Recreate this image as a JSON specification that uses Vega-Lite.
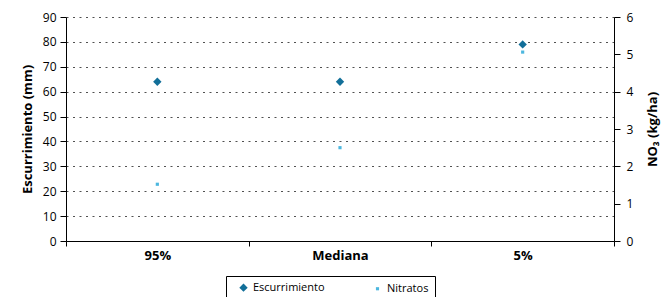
{
  "$schema": "https://vega.github.io/schema/vega-lite/v6.json",
  "autosize": {"type": "none"},
  "padding": {"left": 66, "top": 17, "right": 51, "bottom": 56},
  "width": 548,
  "height": 224,
  "background": "white",
  "config": {
    "font": "Open Sans",
    "view": {"stroke": null},
    "axis": {"labelFont": "Open Sans", "titleFont": "Open Sans", "labelColor": "#000", "titleColor": "#000", "domainColor": "#000", "tickColor": "#000"}
  },
  "data": {
    "values": [
      {"cat": "95%", "serie": "Escurrimiento", "mm": 64},
      {"cat": "Mediana", "serie": "Escurrimiento", "mm": 64},
      {"cat": "5%", "serie": "Escurrimiento", "mm": 79},
      {"cat": "95%", "serie": "Nitratos", "no3": 1.52},
      {"cat": "Mediana", "serie": "Nitratos", "no3": 2.5},
      {"cat": "5%", "serie": "Nitratos", "no3": 5.06}
    ]
  },
  "encoding": {
    "x": {
      "field": "cat", "type": "nominal", "sort": ["95%", "Mediana", "5%"],
      "scale": {"paddingInner": 0, "paddingOuter": 0},
      "axis": {"title": null, "labelAngle": 0, "labelFontWeight": "bold", "labelFontSize": 13, "labelPadding": 3, "tickBand": "extent", "tickSize": 5, "grid": false, "domainWidth": 1}
    },
    "color": {"field": "serie", "type": "nominal", "scale": {"domain": ["Escurrimiento", "Nitratos"], "range": ["#126f99", "#4cb7df"]},
      "legend": {"orient": "none", "legendX": 160, "legendY": 259, "direction": "horizontal", "columns": 2, "gridAlign": "all", "title": null, "strokeColor": "#000", "padding": 6, "labelFontSize": 11, "labelColor": "#000", "labelFont": "Open Sans", "columnPadding": 41, "symbolOffset": 6, "fillColor": "white", "symbolOpacity": 1}},
    "shape": {"field": "serie", "type": "nominal", "scale": {"domain": ["Escurrimiento", "Nitratos"], "range": ["diamond", "square"]}},
    "size": {"field": "serie", "type": "nominal", "scale": {"domain": ["Escurrimiento", "Nitratos"], "range": [70, 10]}}
  },
  "layer": [
    {
      "transform": [{"filter": "datum.serie === 'Escurrimiento'"}],
      "mark": {"type": "point", "filled": true, "opacity": 1},
      "encoding": {
        "y": {
          "field": "mm", "type": "quantitative",
          "scale": {"domain": [0, 90], "nice": false},
          "axis": {"title": "Escurrimiento (mm)", "titleFontWeight": "bold", "titleFontSize": 13, "titlePadding": 8, "values": [0,10,20,30,40,50,60,70,80,90], "labelFontSize": 12, "labelPadding": 4, "tickSize": 6, "grid": true, "gridDash": [2, 4.5], "gridColor": "#333", "gridOpacity": 0.85, "orient": "left"}
        }
      }
    },
    {
      "transform": [{"filter": "datum.serie === 'Nitratos'"}],
      "mark": {"type": "point", "filled": true, "opacity": 1},
      "encoding": {
        "y": {
          "field": "no3", "type": "quantitative",
          "scale": {"domain": [0, 6], "nice": false},
          "axis": {"title": "NO₃ (kg/ha)", "titleFontWeight": "bold", "titleFontSize": 13, "titleAngle": 270, "titleX": 38, "titleY": 112, "titleAlign": "center", "titleBaseline": "middle", "values": [0,1,2,3,4,5,6], "labelFontSize": 12, "labelPadding": 6, "tickSize": 6, "grid": false, "orient": "right"}
        }
      }
    }
  ],
  "resolve": {"scale": {"y": "independent"}}
}
